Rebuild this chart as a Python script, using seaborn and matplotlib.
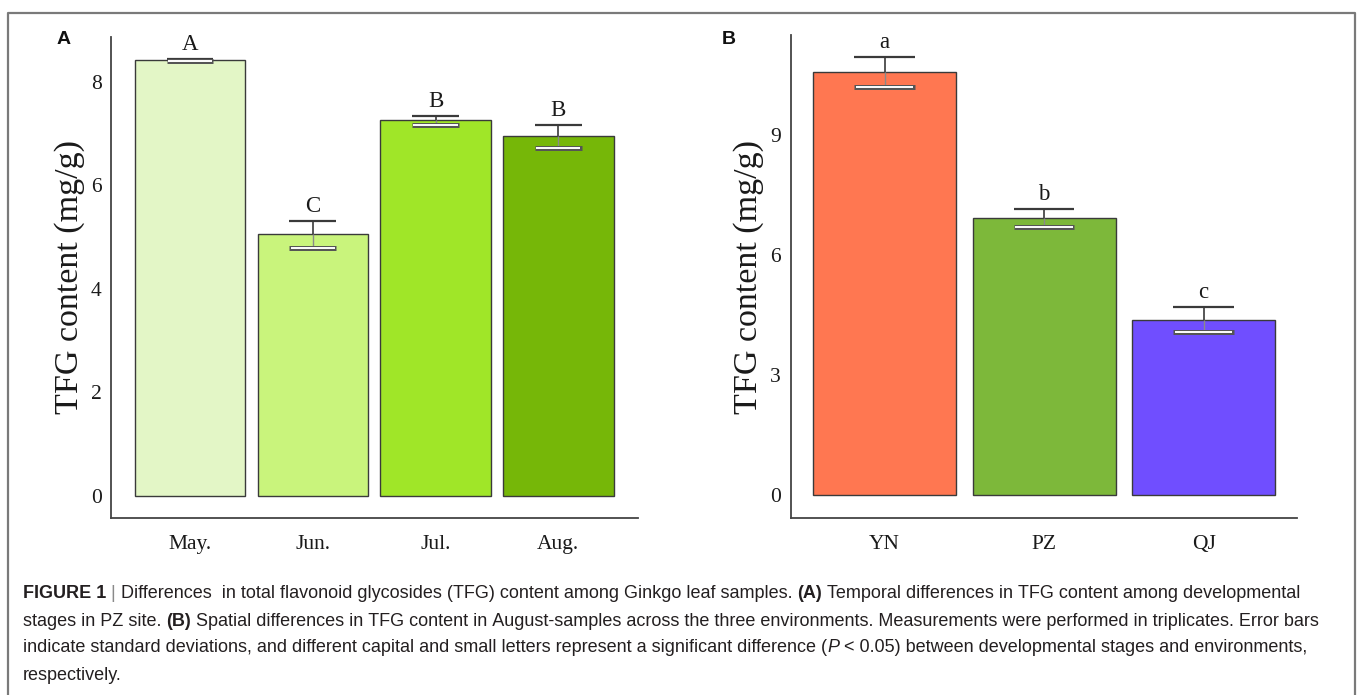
import numpy as np
import pandas as pd
import matplotlib
matplotlib.use("Agg")
import matplotlib.pyplot as plt
from matplotlib.lines import Line2D
import seaborn as sns

# ---------------- data ----------------
months = ["May.", "Jun.", "Jul.", "Aug."]
month_means = [8.42, 5.05, 7.25, 6.94]
month_sd = [0.02, 0.26, 0.08, 0.22]
month_letters = ["A", "C", "B", "B"]
month_colors = ["#E3F6C6", "#C9F47C", "#A0E628", "#76B708"]
month_yticks = [0, 2, 4, 6, 8]

sites = ["YN", "PZ", "QJ"]
site_means = [10.57, 6.92, 4.38]
site_sd = [0.37, 0.225, 0.32]
site_letters = ["a", "b", "c"]
site_colors = ["#FF7751", "#7DB83A", "#704EFF"]
site_yticks = [0, 3, 6, 9]

ylabel = "TFG content (mg/g)"

caption_lines = [
    [("FIGURE 1", "bold", "normal", "#231F20"), (" | ", "normal", "normal", "#8a8a8a"),
     ("Differences  in total flavonoid glycosides (TFG) content among Ginkgo leaf samples. ", "normal", "normal", "#231F20"),
     ("(A)", "bold", "normal", "#231F20"),
     (" Temporal differences in TFG content among developmental", "normal", "normal", "#231F20")],
    [("stages in PZ site. ", "normal", "normal", "#231F20"), ("(B)", "bold", "normal", "#231F20"),
     (" Spatial differences in TFG content in August-samples across the three environments. Measurements were performed in triplicates. Error bars", "normal", "normal", "#231F20")],
    [("indicate standard deviations, and different capital and small letters represent a significant difference (", "normal", "normal", "#231F20"),
     ("P", "normal", "italic", "#231F20"),
     (" < 0.05) between developmental stages and environments,", "normal", "normal", "#231F20")],
    [("respectively.", "normal", "normal", "#231F20")],
]

# ---------------- figure ----------------
sns.set_theme(style="white")
plt.rcParams["font.family"] = ["Liberation Serif", "DejaVu Serif"]

W, H = 1357, 695
fig = plt.figure(figsize=(W / 100, H / 100), dpi=100)

def px_axes(x0, y0, x1, y1):
    return fig.add_axes([x0 / W, 1 - y1 / H, (x1 - x0) / W, (y1 - y0) / H])

axA = px_axes(111.5, 37, 637.5, 518)
axB = px_axes(790.5, 35, 1297, 518)

def panel(ax, cats, means, sds, letters, colors, yticks, xlim, ylim, width):
    df = pd.DataFrame({"cat": cats, "val": means})
    sns.barplot(data=df, x="cat", y="val", hue="cat", palette=colors, legend=False,
                width=width, edgecolor="#3a3a3a", linewidth=1.0, errorbar=None, ax=ax,
                saturation=1)
    xs = np.arange(len(cats))
    m = np.array(means)
    s = np.array(sds)
    cap = 0.19
    # stems
    ax.vlines(xs, m, m + s, color="#3a3a3a", lw=1.2, zorder=4)
    ax.vlines(xs, m - s, m, color="#8a8a8a", lw=1.0, zorder=4)
    # upper caps
    ax.hlines(m + s, xs - cap, xs + cap, color="#3a3a3a", lw=1.6, zorder=5)
    # lower caps: white line with grey outline
    ax.hlines(m - s, xs - cap, xs + cap, color="#555555", lw=3.6, zorder=5)
    ax.hlines(m - s, xs - cap + 0.01, xs + cap - 0.01, color="white", lw=1.4, zorder=6)
    for xi, top, lab in zip(xs, m + s, letters):
        ax.annotate(lab, (xi, top), xytext=(0, 3), textcoords="offset points",
                    ha="center", va="bottom", fontsize=16.5, color="#1a1a1a",
                    family=["Liberation Serif"])
    ax.set_xlim(*xlim)
    ax.set_ylim(*ylim)
    ax.set_yticks(yticks)
    ax.set_xlabel("")
    ax.set_ylabel(ylabel, fontsize=24.5, color="#1a1a1a", labelpad=4)
    ax.tick_params(axis="both", which="both", direction="out", length=4, width=1,
                   color="#555555", labelsize=15.5, labelcolor="#1a1a1a", pad=3)
    ax.tick_params(axis="x", pad=8)
    for sp in ["top", "right"]:
        ax.spines[sp].set_visible(False)
    for sp in ["left", "bottom"]:
        ax.spines[sp].set_color("#444444")
        ax.spines[sp].set_linewidth(1.3)
    ax.set_facecolor("white")

panel(axA, months, month_means, month_sd, month_letters, month_colors, month_yticks,
      (-0.64, 3.645), (-0.43, 8.86), 0.9)
panel(axB, sites, site_means, site_sd, site_letters, site_colors, site_yticks,
      (-0.59, 2.585), (-0.58, 11.5), 0.896)

# panel letters
fig.text(64 / W, 1 - 39 / H, "A", fontsize=14, fontweight="bold", family=["Liberation Sans"],
         ha="center", va="center", color="#111111")
fig.text(729 / W, 1 - 39 / H, "B", fontsize=14, fontweight="bold", family=["Liberation Sans"],
         ha="center", va="center", color="#111111")

# outer frame (open at bottom)
frame_x = [8 / W, 8 / W, 1355 / W, 1355 / W]
frame_y = [0, 1 - 12.5 / H, 1 - 12.5 / H, 0]
fig.add_artist(Line2D(frame_x, frame_y, color="#7a7a7a", lw=1.6, transform=fig.transFigure))

# caption
renderer = fig.canvas.get_renderer()

def run_width(txt, size, weight, style):
    t = fig.text(0, 0, txt.replace(" ", "\u00a0"), fontsize=size, fontweight=weight, fontstyle=style,
                 family=["Liberation Sans", "DejaVu Sans"])
    w = t.get_window_extent(renderer).width
    t.remove()
    return w

x0 = 23
ref_size = 10.0
target_w = 1314 - x0
w3 = sum(run_width(t, ref_size, wgt, sty) for t, wgt, sty, c in caption_lines[2])
cap_size = ref_size * target_w / w3

line_y = [594, 621, 648, 675]
for runs, yy in zip(caption_lines, line_y):
    x = x0
    for txt, wgt, sty, col in runs:
        fig.text(x / W, 1 - yy / H, txt.replace(" ", "\u00a0"), fontsize=cap_size, fontweight=wgt,
                 fontstyle=sty, color=col, family=["Liberation Sans", "DejaVu Sans"],
                 ha="left", va="center")
        x += run_width(txt, cap_size, wgt, sty)

fig.savefig("out.png", dpi=100, facecolor="white")
